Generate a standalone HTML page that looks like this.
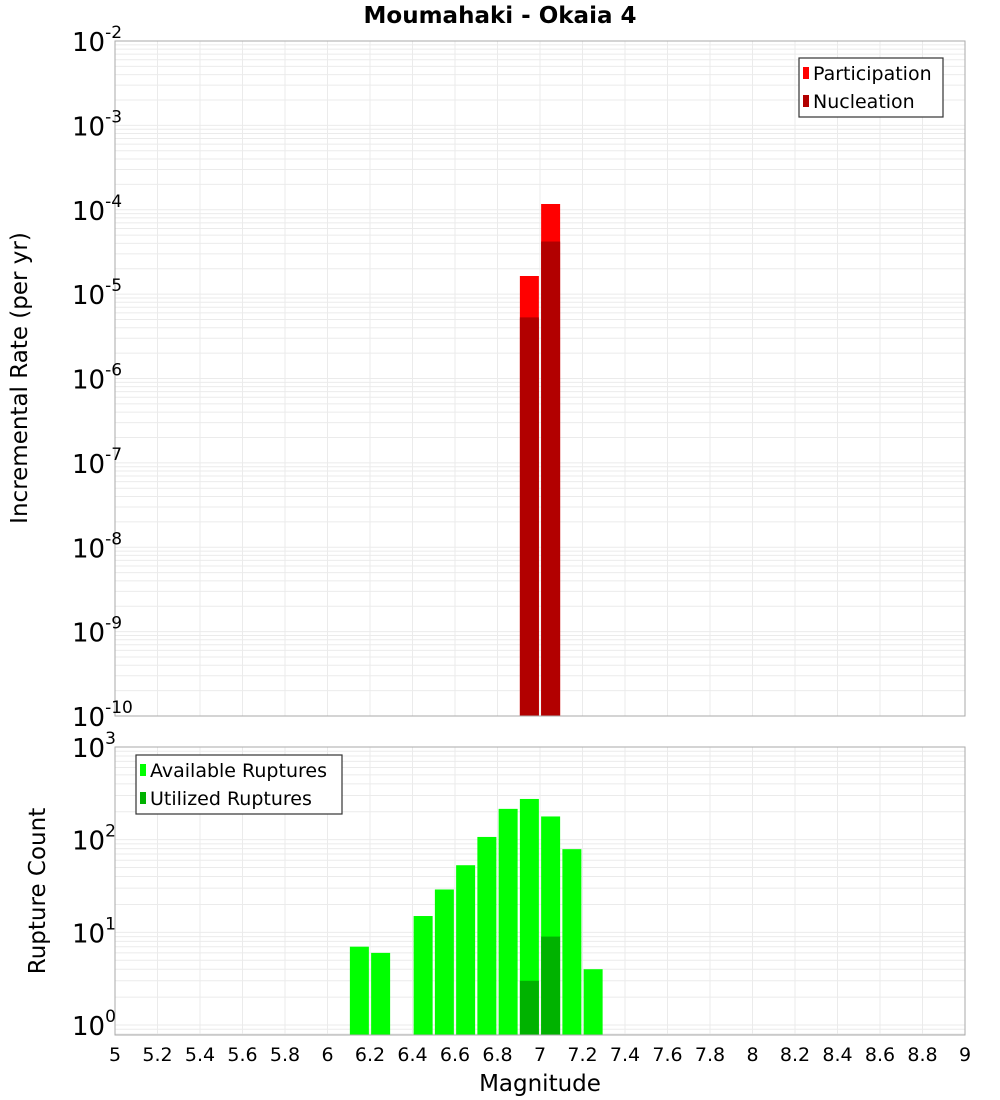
<!DOCTYPE html>
<html><head><meta charset="utf-8"><style>
body{margin:0;background:#fff;}
svg{display:block;font-family:"DejaVu Sans","Liberation Sans",sans-serif;}
</style></head><body>
<svg id="c" width="1000" height="1100" xmlns="http://www.w3.org/2000/svg"></svg>
<script>
const magBins=[6.95,7.05];
const participation=[1.64e-5,1.17e-4];
const nucleation=[5.3e-6,4.2e-5];
const countBins=[6.15,6.25,6.45,6.55,6.65,6.75,6.85,6.95,7.05,7.15,7.25];
const available=[7,6,15,29,53,107,215,275,178,79,4];
const utilBins=[6.95,7.05];
const utilized=[3,9];
const xTicks=["5","5.2","5.4","5.6","5.8","6","6.2","6.4","6.6","6.8","7","7.2","7.4","7.6","7.8","8","8.2","8.4","8.6","8.8","9"];

const NS="http://www.w3.org/2000/svg";
const svg=document.getElementById('c');
function el(t,a,p){const e=document.createElementNS(NS,t);for(const k in a)e.setAttribute(k,a[k]);(p||svg).appendChild(e);return e;}
const X0=115,X1=965;
const xs=m=>X0+(m-5)/4*(X1-X0);
const T={top:41,bot:716,lmin:-10,lmax:-2};
const B={top:747,bot:1035,lmin:Math.log10(0.78),lmax:3};
function ys(P,v){return P.bot-(Math.log10(v)-P.lmin)/(P.lmax-P.lmin)*(P.bot-P.top);}
function panel(P,name){
  const g=el('g',{});
  
  
  el('rect',{x:X0,y:P.top,width:X1-X0,height:P.bot-P.top,fill:'#fff'},g);
  for(let d=Math.floor(P.lmin);d<P.lmax;d++){for(let k=1;k<10;k++){const v=k*Math.pow(10,d);const lv=Math.log10(v);if(lv<P.lmin||lv>P.lmax)continue;const y=ys(P,v);el('line',{x1:X0,x2:X1,y1:y,y2:y,stroke:'#ebebeb','stroke-width':1},g);}}
  for(let i=0;i<xTicks.length;i++){const x=xs(+xTicks[i]);el('line',{x1:x,x2:x,y1:P.top,y2:P.bot,stroke:'#ebebeb','stroke-width':1},g);}
  return g;
}
function frame(P){el('rect',{x:X0,y:P.top,width:X1-X0,height:P.bot-P.top,fill:'none',stroke:'#aaa','stroke-width':1});}
function ylab(P,d,name){
  const t=el('text',{x:72,y:ys(P,Math.pow(10,d))+10,'font-size':26,fill:'#000'});
  
  
  t.textContent='10';
  const s=el('tspan',{dy:-13,'font-size':17},t);s.textContent=String(d);
}
function bar(P,m,v,color,name){
  const w=19,x=xs(m)-w/2,y=ys(P,v);
  const r=el('rect',{x:x,y:y,width:w,height:P.bot-y,fill:color});
  
  
}
panel(T,'rate');
magBins.forEach((m,i)=>bar(T,m,participation[i],'#ff0000','participation-bar'));
magBins.forEach((m,i)=>bar(T,m,nucleation[i],'#b20000','nucleation-bar'));
frame(T);
for(let d=-10;d<=-2;d++)ylab(T,d,'rate-y-tick');
panel(B,'count');
countBins.forEach((m,i)=>bar(B,m,available[i],'#00ff00','available-bar'));
utilBins.forEach((m,i)=>bar(B,m,utilized[i],'#00b200','utilized-bar'));
frame(B);
for(let d=0;d<=3;d++)ylab(B,d,'count-y-tick');
xTicks.forEach(t=>{const e=el('text',{x:xs(+t),y:1061,'font-size':19,'text-anchor':'middle'});
  
  
  e.textContent=t;});
function txt(a,s,name){const e=el('text',a);e.textContent=s;return e;}
txt({x:500,y:23,'font-size':23,'font-weight':'bold','text-anchor':'middle'},'Moumahaki - Okaia 4','chart-title');
txt({x:540,y:1091,'font-size':23,'text-anchor':'middle'},'Magnitude','x-axis-title');
txt({x:0,y:0,'font-size':23,'text-anchor':'middle',transform:'translate(27,378) rotate(-90)'},'Incremental Rate (per yr)','rate-y-axis-title');
txt({x:0,y:0,'font-size':23,'text-anchor':'middle',transform:'translate(45,891) rotate(-90)'},'Rupture Count','count-y-axis-title');
function legend(x,y,w,items,name){
  const g=el('g',{});
  el('rect',{x:x,y:y,width:w,height:59,fill:'#fff',stroke:'#333','stroke-width':1.2},g);
  items.forEach((it,i)=>{
    el('rect',{x:x+4,y:y+9+i*28,width:6,height:12,fill:it[1]},g);
    const t=el('text',{x:x+14,y:y+22+i*28,'font-size':19},g);t.textContent=it[0];
  });
}
legend(799,58,144,[['Participation','#ff0000'],['Nucleation','#b20000']],'rate-legend');
legend(136,755,206,[['Available Ruptures','#00ff00'],['Utilized Ruptures','#00b200']],'count-legend');
</script>
</body></html>
